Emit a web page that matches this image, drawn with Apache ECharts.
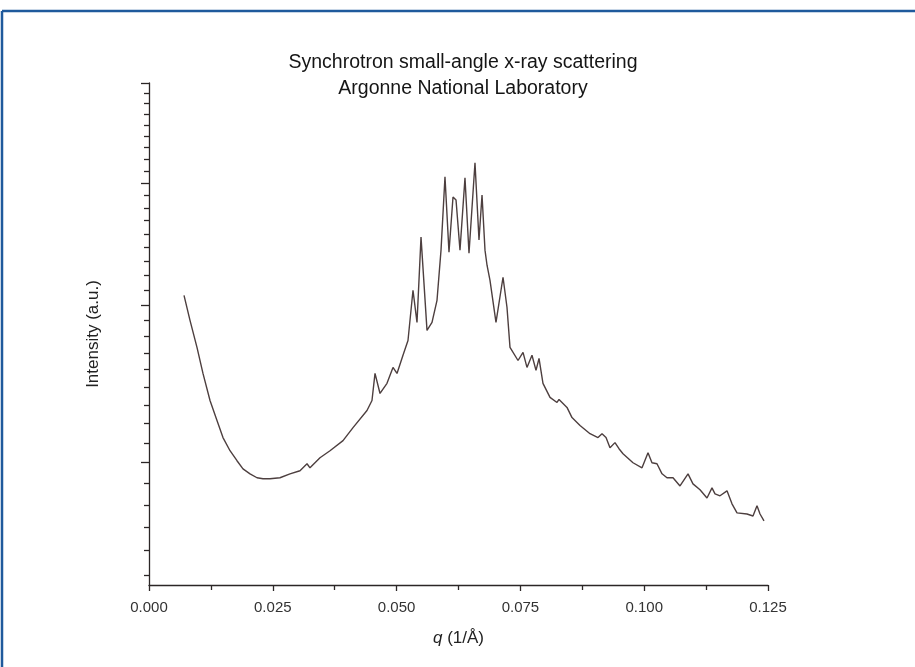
<!DOCTYPE html>
<html>
<head>
<meta charset="utf-8">
<script src="https://cdn.jsdelivr.net/npm/echarts@6/dist/echarts.min.js"></script>
<style>
  html, body { margin: 0; padding: 0; background: #ffffff; }
  #chart { width: 915px; height: 667px; }
</style>
</head>
<body>
<div id="chart"></div>
<script>
// scattering vector q (1/Å)
const qValues = [
  0.00707, 0.00828, 0.00969, 0.01090, 0.01232, 0.01373, 0.01494, 0.01636, 0.01777, 0.01898,
  0.02040, 0.02181, 0.02302, 0.02443, 0.02645, 0.02847, 0.03049, 0.03191, 0.03251, 0.03453,
  0.03655, 0.03918, 0.04120, 0.04402, 0.04503, 0.04564, 0.04665, 0.04806, 0.04927, 0.05008,
  0.05129, 0.05230, 0.05331, 0.05412, 0.05493, 0.05614, 0.05715, 0.05816, 0.05897, 0.05977,
  0.06058, 0.06139, 0.06200, 0.06280, 0.06381, 0.06462, 0.06583, 0.06664, 0.06725, 0.06785,
  0.06826, 0.06886, 0.07007, 0.07149, 0.07229, 0.07290, 0.07452, 0.07553, 0.07633, 0.07734,
  0.07815, 0.07876, 0.07956, 0.08098, 0.08239, 0.08280, 0.08441, 0.08542, 0.08704, 0.08906,
  0.09067, 0.09148, 0.09229, 0.09309, 0.09410, 0.09491, 0.09572, 0.09774, 0.09956, 0.10077,
  0.10157, 0.10258, 0.10360, 0.10460, 0.10582, 0.10723, 0.10885, 0.10985, 0.11127, 0.11268,
  0.11369, 0.11430, 0.11531, 0.11672, 0.11773, 0.11874, 0.12076, 0.12197, 0.12278, 0.12339,
  0.12419
];
// intensity (arbitrary units, log scale)
const intensity = [
  36.65, 35.01, 33.33, 31.78, 30.25, 29.16, 28.27, 27.60, 27.10, 26.70,
  26.46, 26.27, 26.22, 26.22, 26.27, 26.46, 26.61, 26.95, 26.75, 27.25,
  27.60, 28.11, 28.79, 29.70, 30.25, 31.78, 30.64, 31.21, 32.13, 31.78,
  32.85, 33.75, 36.99, 34.88, 40.76, 34.38, 34.88, 36.32, 39.80, 45.50,
  39.66, 43.86, 43.62, 39.80, 45.42, 39.58, 46.68, 40.54, 44.02, 39.80,
  38.72, 37.67, 34.88, 37.88, 35.86, 33.33, 32.54, 33.03, 32.13, 32.85,
  31.96, 32.66, 31.21, 30.42, 30.14, 30.31, 29.87, 29.32, 28.90, 28.47,
  28.27, 28.47, 28.27, 27.75, 28.01, 27.70, 27.45, 27.00, 26.75, 27.50,
  27.00, 26.95, 26.46, 26.27, 26.27, 25.88, 26.46, 25.98, 25.70, 25.32,
  25.79, 25.51, 25.42, 25.65, 25.05, 24.64, 24.59, 24.50, 24.96, 24.59,
  24.28
];
const xTickValues = [0, 0.025, 0.05, 0.075, 0.1, 0.125];
const yMajorTicks = [27, 36, 45, 54];
const yMinorTicks = [22, 23, 24, 25, 26, 28, 29, 30, 31, 32, 33, 34, 35, 37, 38, 39, 40, 41, 42, 43, 44,
                     46, 47, 48, 49, 50, 51, 52, 53];
const titleLines = ['Synchrotron small-angle x-ray scattering', 'Argonne National Laboratory'];

const seriesData = qValues.map((q, i) => [q, intensity[i]]);
const FONT = '"Liberation Sans", Arial, sans-serif';
const axisColor = '#2b2626';

const yBase = {
  type: 'log',
  logBase: 10,
  min: 21.6,
  max: 54,
  position: 'left',
  offset: 0,
  splitLine: { show: false },
  axisLabel: { show: false },
  minorTick: { show: false }
};

const chart = echarts.init(document.getElementById('chart'), null, { renderer: 'canvas' });
chart.setOption({
  backgroundColor: '#ffffff',
  animation: false,
  grid: { left: 149, right: 147, top: 83, bottom: 82, containLabel: false },
  graphic: [
    { type: 'line', shape: { x1: 2, y1: 11, x2: 915, y2: 11 }, style: { stroke: '#1f5a9c', lineWidth: 2.5 } },
    { type: 'line', shape: { x1: 2, y1: 11, x2: 2, y2: 667 }, style: { stroke: '#1f5a9c', lineWidth: 2.5 } },
    { type: 'text', x: 463, y: 63, style: { text: titleLines[0], textAlign: 'center', textVerticalAlign: 'middle', font: '19.5px ' + FONT, fill: '#151515' } },
    { type: 'text', x: 463, y: 89, style: { text: titleLines[1], textAlign: 'center', textVerticalAlign: 'middle', font: '19.5px ' + FONT, fill: '#151515' } }
  ],
  xAxis: {
    type: 'value',
    min: 0,
    max: 0.125,
    interval: 0.025,
    name: '{i|q} (1/Å)',
    nameLocation: 'middle',
    nameGap: 45,
    nameTextStyle: {
      fontSize: 17, color: '#222', fontFamily: FONT,
      rich: { i: { fontStyle: 'italic', fontSize: 17, color: '#222', fontFamily: FONT } }
    },
    axisLine: { lineStyle: { color: axisColor, width: 1.3 } },
    axisTick: { show: true, length: 6, lineStyle: { color: axisColor, width: 1.3 } },
    minorTick: { show: true, splitNumber: 2, length: 5, lineStyle: { color: axisColor, width: 1.3 } },
    splitLine: { show: false },
    minorSplitLine: { show: false },
    axisLabel: {
      margin: 15, fontSize: 15, color: '#333', fontFamily: FONT,
      customValues: xTickValues,
      formatter: v => v.toFixed(3)
    }
  },
  yAxis: [
    Object.assign({}, yBase, {
      name: 'Intensity (a.u.)',
      nameLocation: 'middle',
      nameGap: 47,
      nameTextStyle: { fontSize: 17, color: '#222', fontFamily: FONT },
      axisLine: { show: true, lineStyle: { color: axisColor, width: 1.3 } },
      axisTick: { show: true, length: 8, customValues: yMajorTicks, lineStyle: { color: axisColor, width: 1.3 } }
    }),
    Object.assign({}, yBase, {
      axisLine: { show: false },
      axisTick: { show: true, length: 5, customValues: yMinorTicks, lineStyle: { color: axisColor, width: 1.3 } }
    })
  ],
  series: [{
    type: 'line',
    data: seriesData,
    xAxisIndex: 0,
    yAxisIndex: 0,
    showSymbol: false,
    symbol: 'none',
    smooth: false,
    lineStyle: { color: '#4d3f3f', width: 1.4 }
  }]
});
</script>
</body>
</html>
